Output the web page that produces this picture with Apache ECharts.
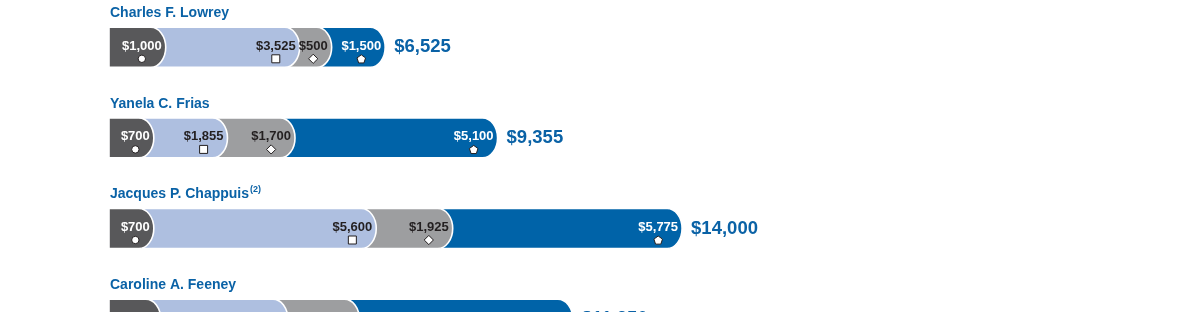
<!DOCTYPE html>
<html><head><meta charset="utf-8">
<script src="https://cdn.jsdelivr.net/npm/echarts@6/dist/echarts.min.js"></script>
<style>html,body{margin:0;padding:0;background:#fff}#c{width:1200px;height:312px}</style>
</head><body><div id="c"></div>
<script>
// ---- data ----
const names = ['Charles F. Lowrey', 'Yanela C. Frias', 'Jacques P. Chappuis', 'Caroline A. Feeney'];
const nameNotes = ['', '', '(2)', ''];
const darkVals = [1000, 700, 700, 875];
const lightVals = [3525, 1855, 5600, 3200];
const grayVals = [500, 1700, 1925, 1800];
const blueVals = [1500, 5100, 5775, 5375];
const totals = [6525, 9355, 14000, 11250];

// ---- styles ----
const segColors = ['#58585a', '#aebfe0', '#9d9ea0', '#0063a8'];
const labelColors = ['#ffffff', '#231f20', '#231f20', '#ffffff'];
const markerTypes = ['circle', 'square', 'diamond', 'pentagon'];
const NAME_FONT = 'bold 14px "Liberation Sans", Arial, sans-serif';
const NOTE_FONT = 'bold 9px "Liberation Sans", Arial, sans-serif';
const LABEL_FONT = 'bold 13px "Liberation Sans", Arial, sans-serif';
const TOTAL_FONT = 'bold 18.5px "Liberation Sans", Arial, sans-serif';
const BLUE_TEXT = '#0a62a6';

const mctx = document.createElement('canvas').getContext('2d');
function tw(s, font) { mctx.font = font; return mctx.measureText(s).width; }
function money(v) { return '$' + v.toLocaleString('en-US'); }

const rows = names.map((n, i) => [i, darkVals[i], lightVals[i], grayVals[i], blueVals[i], totals[i]]);

const EXT = 17, RX = 15, HALF = 20, MIN_W = 32;

function marker(type, cx, cy) {
  const st = { fill: '#ffffff', stroke: '#231f20', lineWidth: 1 };
  if (type === 'circle') return { type: 'circle', shape: { cx: cx, cy: cy, r: 3.7 }, style: st };
  if (type === 'square') return { type: 'rect', shape: { x: cx - 4, y: cy - 4, width: 8, height: 8 }, style: st };
  if (type === 'diamond') return { type: 'polygon', shape: { points: [[cx, cy - 4.6], [cx + 4.6, cy], [cx, cy + 4.6], [cx - 4.6, cy]] }, style: st };
  const pts = [];
  for (let k = 0; k < 5; k++) {
    const a = -Math.PI / 2 + k * 2 * Math.PI / 5;
    pts.push([cx + 4.5 * Math.cos(a), cy + 4.5 * Math.sin(a) + 0.5]);
  }
  return { type: 'polygon', shape: { points: pts }, style: st };
}

function renderItem(params, api) {
  const row = api.value(0);
  const vals = [api.value(1), api.value(2), api.value(3), api.value(4)];
  const total = api.value(5);
  const base = api.coord([0, row]);
  const cy = base[1];
  const x0 = base[0];
  // pixel boundaries from the value scale
  const bounds = [x0];
  let c = 0;
  vals.forEach(v => { c += v; bounds.push(api.coord([c, row])[0]); });
  // minimum visible width for very small segments (like barMinHeight)
  for (let s = 1; s < 4; s++) {
    const w = bounds[s + 1] - bounds[s];
    if (w < MIN_W) {
      const d = (MIN_W - w) / 2;
      bounds[s] -= d;
      bounds[s + 1] += d;
    }
  }
  const children = [];
  for (let s = 3; s >= 0; s--) {
    const xs = bounds[s];
    const xe = bounds[s + 1] + EXT;
    const y0 = cy - HALF, y1 = cy + HALF;
    const path = 'M' + xs + ' ' + y0 + ' L' + (xe - RX) + ' ' + y0 +
      ' A' + RX + ' ' + HALF + ' 0 0 1 ' + (xe - RX) + ' ' + y1 +
      ' L' + xs + ' ' + y1 + ' Z';
    children.push({
      type: 'path',
      shape: { pathData: path },
      style: { fill: segColors[s], stroke: '#ffffff', lineWidth: 1.6 }
    });
  }
  for (let s = 0; s < 4; s++) {
    const xe = bounds[s + 1] + EXT;
    const txt = money(vals[s]);
    const w = tw(txt, LABEL_FONT);
    const right = xe - 4;
    children.push({
      type: 'text',
      style: { x: right, y: cy - 1, text: txt, font: LABEL_FONT, fill: labelColors[s], align: 'right', verticalAlign: 'middle' }
    });
    children.push(marker(markerTypes[s], right - w / 2, cy + 11.5));
  }
  const xt = api.coord([total, row])[0] + EXT + 9;
  children.push({
    type: 'text',
    style: { x: xt, y: cy, text: money(total), font: TOTAL_FONT, fill: BLUE_TEXT, align: 'left', verticalAlign: 'middle' }
  });
  const nm = names[row];
  children.push({
    type: 'text',
    style: { x: x0 + 1, y: cy - 34, text: nm, font: NAME_FONT, fill: BLUE_TEXT, align: 'left', verticalAlign: 'middle' }
  });
  if (nameNotes[row]) {
    children.push({
      type: 'text',
      style: { x: x0 + 1 + tw(nm, NAME_FONT) + 1, y: cy - 38.5, text: nameNotes[row], font: NOTE_FONT, fill: BLUE_TEXT, align: 'left', verticalAlign: 'middle' }
    });
  }
  return { type: 'group', children: children };
}

const ROW_PX = 90.6, GRID_TOP = 2, GRID_H = 308;
const chart = echarts.init(document.getElementById('c'), null, { renderer: 'canvas' });
chart.setOption({
  animation: false,
  grid: { left: 109, width: 993, top: GRID_TOP, height: GRID_H },
  xAxis: { type: 'value', min: 0, max: 25000, show: false },
  yAxis: { type: 'value', inverse: true, min: -0.5, max: -0.5 + GRID_H / ROW_PX, show: false },
  series: [{
    type: 'custom',
    renderItem: renderItem,
    clip: false,
    encode: { y: 0, x: 5 },
    data: rows
  }]
});
</script></body></html>
